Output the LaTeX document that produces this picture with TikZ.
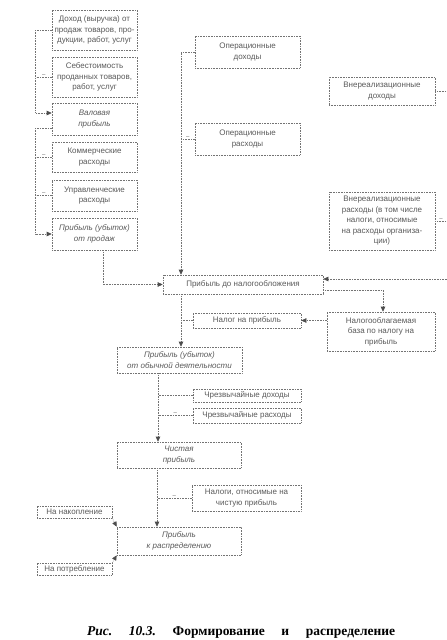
\documentclass[tikz,border=0pt]{standalone}
\usepackage{fontspec}
\setmainfont{Liberation Sans}
\newfontfamily\capfont{Liberation Serif}
\usetikzlibrary{arrows.meta, positioning, calc}

\begin{document}
\begin{tikzpicture}[x=1pt, y=-1pt,
        block/.style={rectangle, draw=black!55, densely dotted, line width=0.6pt, text=black!65, align=center, inner sep=1pt, font=\fontsize{8}{10.5}\selectfont},
        link/.style={draw=black!55, densely dotted, line width=0.6pt},
        arr/.style={link, -{Triangle[length=5pt, width=4.5pt, color=black!70]}},
        minus/.style={font=\fontsize{6}{6}\selectfont, text=black!65, inner sep=0.5pt, above}
    ]
        \useasboundingbox (0,0) rectangle (447,640);

        % Nodes
        \node [block, minimum width=85, minimum height=40] (dohod) at (94.5,30) {Доход (выручка) от\\продаж товаров, про-\\дукции, работ, услуг};
        \node [block, minimum width=85, minimum height=40] (sebest) at (94.5,77) {Себестоимость\\проданных товаров,\\работ, услуг};
        \node [block, minimum width=85, minimum height=32] (valov) at (94.5,119) {\itshape Валовая\\\itshape прибыль};
        \node [block, minimum width=85, minimum height=30] (kommer) at (94.5,157) {Коммерческие\\расходы};
        \node [block, minimum width=85, minimum height=31] (uprav) at (94.5,195.5) {Управленческие\\расходы};
        \node [block, minimum width=85, minimum height=32] (prodazh) at (94.5,234) {\itshape Прибыль (убыток)\\\itshape от продаж};

        \node [block, minimum width=105, minimum height=32] (opdoh) at (247.5,52) {Операционные\\доходы};
        \node [block, minimum width=105, minimum height=32] (oprash) at (247.5,139) {Операционные\\расходы};
        \node [block, minimum width=106, minimum height=28] (vnedoh) at (382,91) {Внереализационные\\доходы};
        \node [block, minimum width=106, minimum height=58] (vnerash) at (382,221) {Внереализационные\\расходы (в том числе\\налоги, относимые\\на расходы организа-\\ции)};

        \node [block, minimum width=160, minimum height=19] (pbt) at (243,284.5) {Прибыль до налогообложения};
        \node [block, minimum width=108, minimum height=15] (nalog) at (247,320.5) {Налог на прибыль};
        \node [block, minimum width=108, minimum height=39] (nbaza) at (381,331.5) {Налогооблагаемая\\база по налогу на\\прибыль};
        \node [block, minimum width=125, minimum height=26] (pobych) at (179.5,360) {\itshape Прибыль (убыток)\\\itshape от обычной деятельности};
        \node [block, minimum width=108, minimum height=13] (chdoh) at (247,395.5) {Чрезвычайные доходы};
        \node [block, minimum width=108, minimum height=15] (chrash) at (247,415.5) {Чрезвычайные расходы};
        \node [block, minimum width=124, minimum height=26] (chist) at (179,455) {\itshape Чистая\\\itshape прибыль};
        \node [block, minimum width=109, minimum height=26] (nalchist) at (246.5,498) {Налоги, относимые на\\чистую прибыль};
        \node [block, minimum width=124, minimum height=28] (raspr) at (179,541) {\itshape Прибыль\\\itshape к распределению};
        \node [block, minimum width=75, minimum height=12] (nakop) at (74.5,512) {На накопление};
        \node [block, minimum width=75, minimum height=12] (potreb) at (74.5,569) {На потребление};

        \coordinate (edge1) at (447,91);
        \coordinate (edge2) at (447,221);
        \coordinate (edge3) at (447,279);

        % Arrows
        \draw [arr] (dohod.west) -- ++(-16,0) |- ([yshift=6]valov.west);
        \draw [link] (sebest.west) -- node[minus] {--} ++(-16,0);
        \draw [arr] ([yshift=-9]valov.west) -- ++(-16,0) |- (prodazh.west);
        \draw [link] (kommer.west) -- node[minus] {--} ++(-16,0);
        \draw [link] (uprav.west) -- node[minus] {--} ++(-16,0);
        \draw [arr] ([xshift=8.5]prodazh.south) |- (pbt.west);

        \draw [arr] (opdoh.west) -| ([xshift=-62]pbt.north);
        \draw [link] (oprash.west) -- node[minus] {--} ++(-14,0);
        \draw [link] (vnedoh.east) -- (edge1);
        \draw [link] (vnerash.east) -- node[minus] {--} (edge2);
        \draw [arr] (edge3) -- (edge3 -| pbt.east);

        \draw [arr] ([yshift=-5.5]pbt.east) -| ([xshift=2]nbaza.north);
        \draw [arr] (nalog.east -| nbaza.west) -- (nalog.east);
        \draw [arr] ([xshift=-62]pbt.south) -- ([xshift=-62]pbt.south |- pobych.north);
        \draw [link] (nalog.west) -- ++(-12,0);

        \draw [arr] ([xshift=-21.5]pobych.south) -- ([xshift=-21.5]pobych.south |- chist.north);
        \draw [link] (chdoh.west) -- ++(-35,0);
        \draw [link] (chrash.west) -- node[minus] {--} ++(-35,0);
        \draw [arr] ([xshift=-22]chist.south) -- ([xshift=-22]chist.south |- raspr.north);
        \draw [link] (nalchist.west) -- node[minus] {--} ++(-35,0);
        \draw [arr] (nakop.south east) -- (raspr.north west);
        \draw [arr] (potreb.north east) -- (raspr.south west);

        % Labels
        \node [anchor=base west, text width=308, inner sep=0pt, font=\capfont\fontsize{13.5}{15}\selectfont\bfseries] (caption) at (87,635) {\itshape Рис.\hfill 10.3.\hfill\upshape Формирование\hfill и\hfill распределение};
    \end{tikzpicture}
\end{document}
